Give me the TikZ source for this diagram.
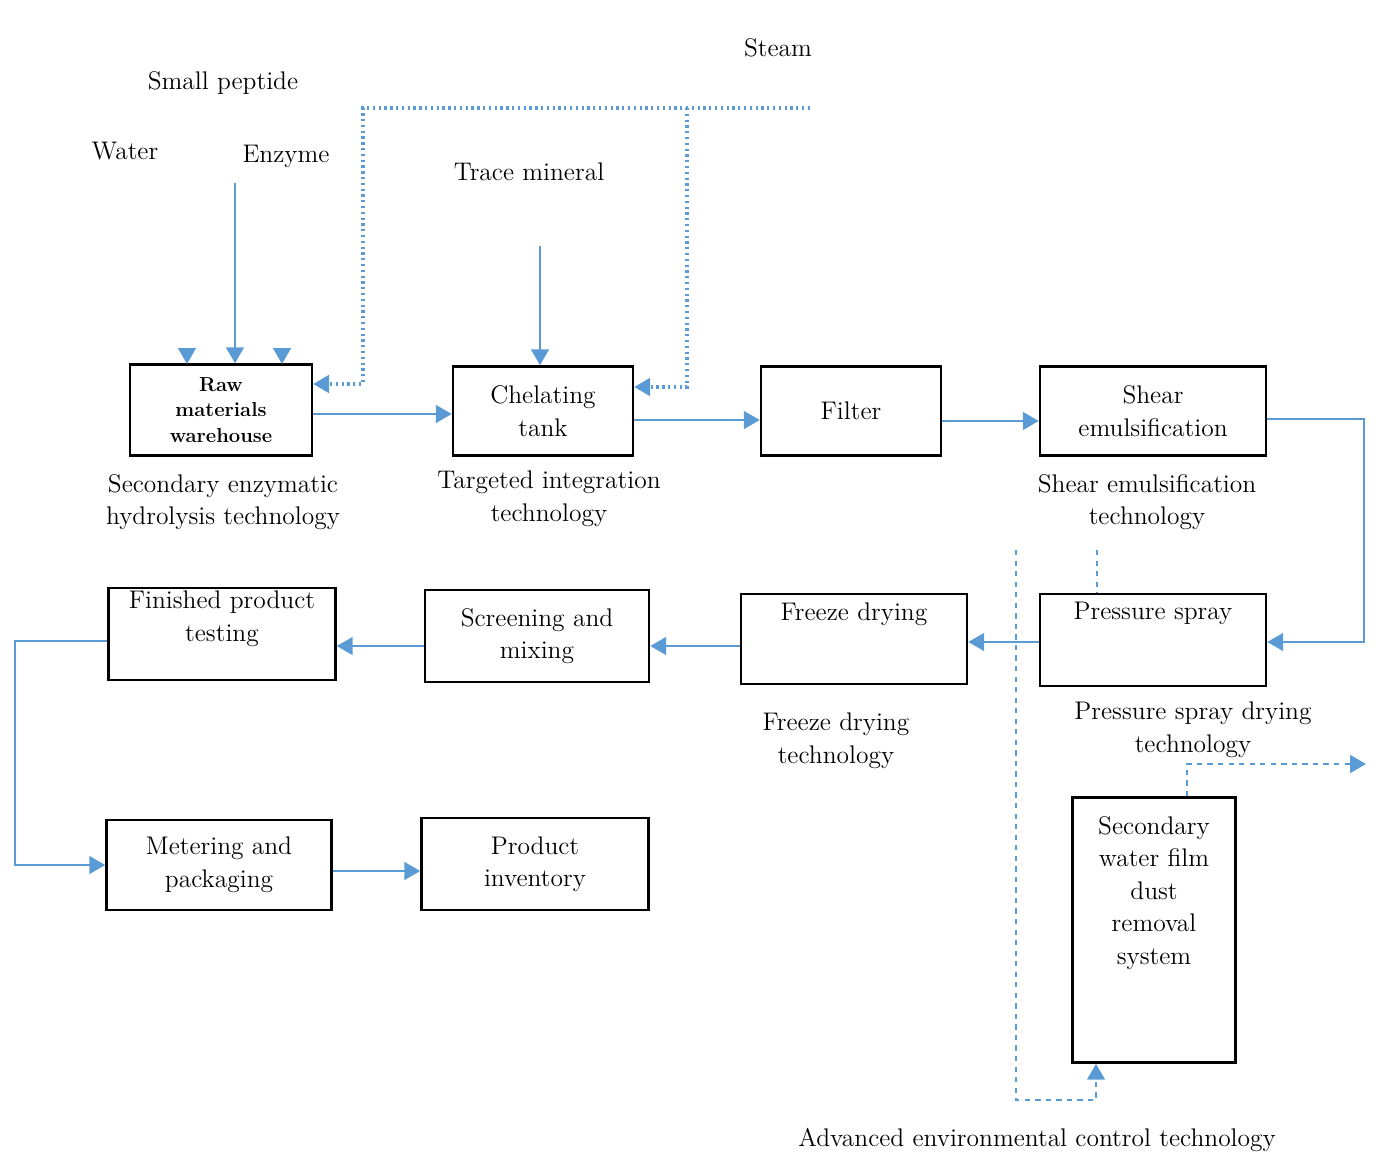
\documentclass[tikz,border=0pt]{standalone}
\usetikzlibrary{arrows.meta}
\definecolor{flowblue}{RGB}{91,155,213}
\tikzset{
  box/.style={draw,line width=1.4pt,inner sep=0pt,align=center,font=\fontsize{14.5}{18.5}\selectfont},
  txt/.style={align=center,font=\fontsize{14.5}{18.5}\selectfont},
  flow/.style={flowblue,line width=1.3pt,-{Triangle[length=9pt,width=10pt]}},
  steam/.style={flow,dotted,line width=1.8pt},
  dashflow/.style={flow,dashed,line width=1.3pt}
}
\begin{document}
\begin{tikzpicture}[x=0.02cm,y=-0.02cm]
  \useasboundingbox (0,0) rectangle (1388,1170);
  % process boxes
  \node[box,minimum width=182*0.02cm,minimum height=91*0.02cm,font=\bfseries\fontsize{11.5}{14.5}\selectfont] (raw) at (221,410) {Raw\\materials\\warehouse};
  \node[box,minimum width=180*0.02cm,minimum height=89*0.02cm] (chel) at (543,411) {Chelating\\tank};
  \node[box,minimum width=180*0.02cm,minimum height=89*0.02cm] (filt) at (851,411) {Filter};
  \node[box,minimum width=226*0.02cm,minimum height=89*0.02cm] (shear) at (1153,411) {Shear\\emulsification};
  \node[box,minimum width=226*0.02cm,minimum height=92*0.02cm,label={[txt,anchor=north,yshift=-2pt]north:Pressure spray}] (press) at (1153,640) {};
  \node[box,minimum width=226*0.02cm,minimum height=90*0.02cm,label={[txt,anchor=north,yshift=-2pt]north:Freeze drying}] (freeze) at (854,639) {};
  \node[box,minimum width=224*0.02cm,minimum height=92*0.02cm] (screen) at (537,636) {Screening and\\mixing};
  \node[box,minimum width=227*0.02cm,minimum height=92*0.02cm,label={[txt,anchor=north,yshift=1pt]north:Finished product\\testing}] (final) at (222,634) {};
  \node[box,minimum width=225*0.02cm,minimum height=90*0.02cm] (meter) at (219,865) {Metering and\\packaging};
  \node[box,minimum width=227*0.02cm,minimum height=92*0.02cm] (stock) at (535,864) {Product\\inventory};
  \node[box,minimum width=163*0.02cm,minimum height=265*0.02cm,label={[txt,anchor=north,yshift=-8pt]north:Secondary\\water film\\dust\\removal\\system}] (dust) at (1154,930) {};

  % inputs and captions
  \node[txt] (steamlbl) at (778,48) {Steam};
  \node[txt] (pep) at (223,83) {Small peptide};
  \node[txt] (water) at (125,151) {Water};
  \node[txt] (enz) at (286,156) {Enzyme};
  \node[txt] (trace) at (529,172) {Trace mineral};
  \node[txt] (t1) at (223,502) {Secondary enzymatic\\hydrolysis technology};
  \node[txt] (t2) at (549,499) {Targeted integration\\technology};
  \node[txt] (t3) at (1147,502) {Shear emulsification\\technology};
  \node[txt] (t4) at (836,741) {Freeze drying\\technology};
  \node[txt] (t5) at (1193,730) {Pressure spray drying\\technology};
  \node[txt] (t6) at (1037,1140) {Advanced environmental control technology};

  \coordinate (enzA) at (235,183);
  \coordinate (traceA) at (540,246);
  \coordinate (stA) at (810,108);
  \coordinate (dA) at (1016,550);
  \coordinate (dB) at (1097,550);
  \coordinate (exA) at (1366,764);

  % main flow
  \draw[flow] (enzA) -- (raw.north -| enzA);
  \draw[flow] (187,352) -- (187,364);
  \draw[flow] (282,352) -- (282,364);
  \draw[flow] (traceA) -- (chel.north -| traceA);
  \draw[steam] (stA) -- (363,108) -- (363,384) -- (raw.east |- 0,384);
  \draw[steam] (687,108) -- (687,387) -- (chel.east |- 0,387);
  \draw[flow] (raw.east |- 0,414) -- (chel.west |- 0,414);
  \draw[flow] (chel.east |- 0,420) -- (filt.west |- 0,420);
  \draw[flow] (filt.east |- 0,421) -- (shear.west |- 0,421);
  \draw[flow] (shear.east |- 0,419) -- (1364,419) -- (1364,642) -- (press.east |- 0,642);
  \draw[flow] (press.west |- 0,642) -- (freeze.east |- 0,642);
  \draw[flow] (freeze.west |- 0,646) -- (screen.east |- 0,646);
  \draw[flow] (screen.west |- 0,646) -- (final.east |- 0,646);
  \draw[flow] (final.west |- 0,641) -- (15,641) -- (15,865) -- (meter.west |- 0,865);
  \draw[flow] (meter.east |- 0,871) -- (stock.west |- 0,871);

  % exhaust treatment
  \draw[dashflow] (dA) -- (1016,1100) -- (1096,1100) -- (dust.south -| 1096,0);
  \draw[dashflow,-] (dB) -- (press.north -| dB);
  \draw[dashflow] (dust.north -| 1187,0) -- (1187,764) -- (exA);
\end{tikzpicture}
\end{document}
